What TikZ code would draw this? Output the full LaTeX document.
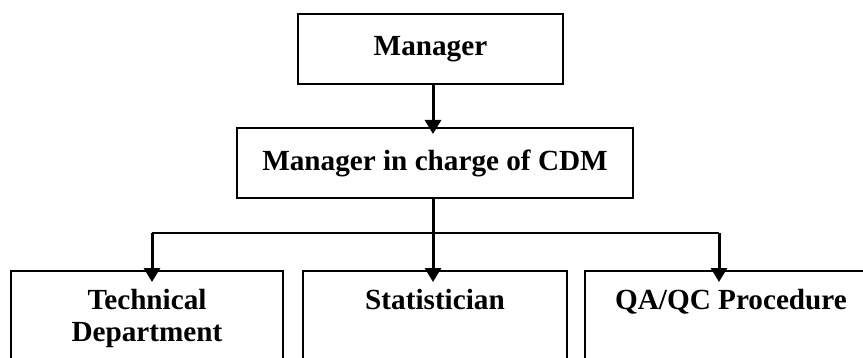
\documentclass[tikz,border=0pt]{standalone}
\usepackage{fontspec}
\setmainfont{Liberation Serif}
\usetikzlibrary{arrows.meta}

\tikzset{
  box/.style={draw, line width=1pt, inner sep=0pt, font=\fontsize{14.6}{16}\selectfont\bfseries},
  unit/.style={box, anchor=north, align=center, inner ysep=9pt, text depth=40pt},
  link/.style={-{Triangle[length=7pt,width=8pt]}, line width=1.5pt}
}

\begin{document}
\begin{tikzpicture}[x=0.5pt,y=-0.5pt]
				\useasboundingbox (0,0) rectangle (863,358);
				\clip (0,0) rectangle (863,358);
				\node[box, minimum width=132.5pt, minimum height=35pt] at (430.5,49) (A) {Manager};
				\node[box, minimum width=198pt, minimum height=35pt] at (435,163) (B) {Manager in charge of CDM};
				\node[unit, minimum width=136pt] at (147,270) (C) {Technical\\Department};
				\node[unit, minimum width=132pt] at (435,270) (D) {Statistician};
				\node[unit, minimum width=146pt] at (731,270) (E) {QA/QC Procedure};
				\coordinate (M) at (433,233);
				\coordinate (L) at (152,233);
				\coordinate (R) at (719,233);
				
				\draw[link] (M |- A.south) -- ([yshift=-3.5pt]M |- B.north);
				\draw[link] (M |- B.south) -- ([yshift=-6pt]M |- D.north);
				\draw[line width=1pt] (L) -- (R);
				\draw[link] (L) -- ([yshift=-6pt]L |- C.north);
				\draw[link] (R) -- ([yshift=-6pt]R |- E.north);
			\end{tikzpicture}
\end{document}
